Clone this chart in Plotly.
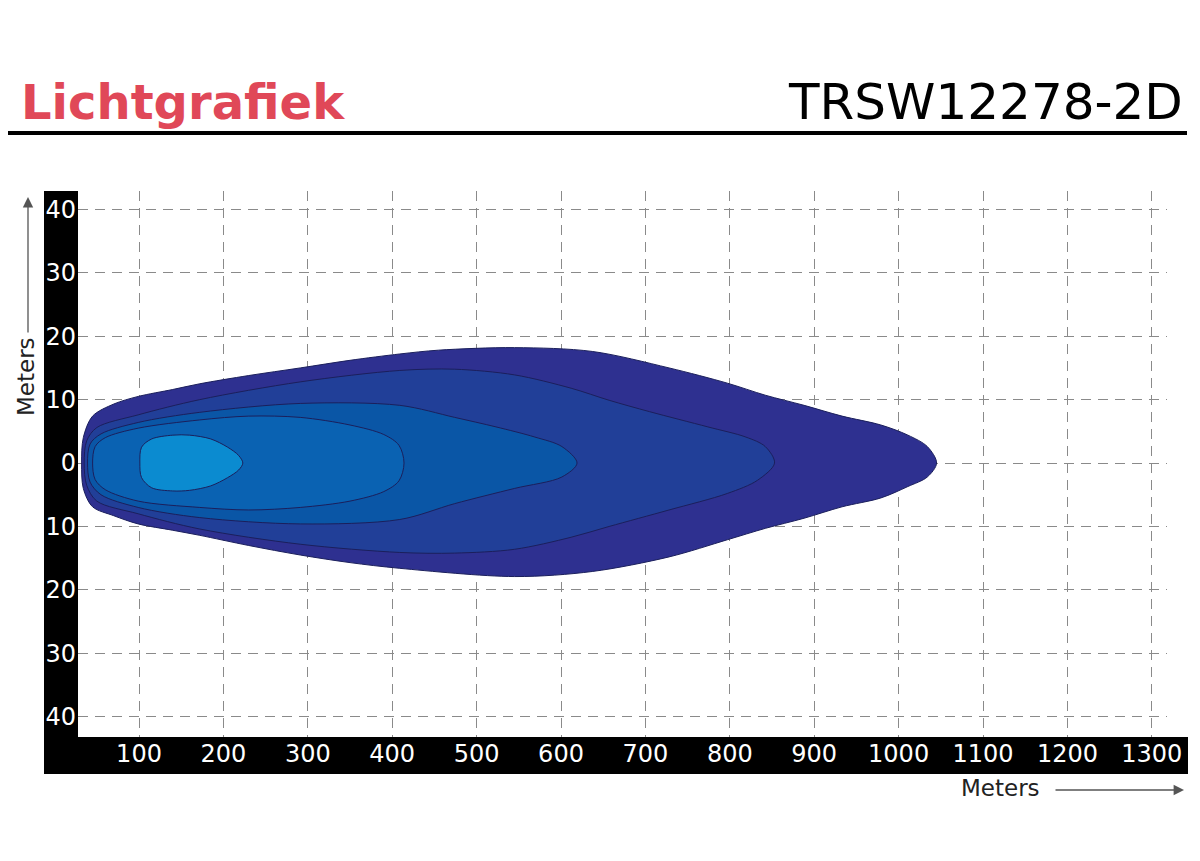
import plotly.graph_objects as go

# ---------------- data (meters) ----------------
# Isolux contours: upper edge (left->right) and lower edge (right->left)
c1_x_up = [32, 34, 45, 70, 99, 140, 172, 230, 291, 350, 409, 455, 545, 637, 728, 797, 842, 888, 933, 979, 1011, 1034, 1045]
c1_y_up = [0, 4.0, 7.4, 9.3, 10.5, 11.6, 12.5, 13.8, 15.0, 16.2, 17.2, 17.8, 18.2, 17.6, 15.0, 12.6, 10.7, 9.1, 7.4, 6.0, 4.4, 2.6, 0]
c1_x_lo = [1034, 1011, 979, 933, 888, 842, 797, 728, 637, 545, 409, 350, 291, 230, 172, 140, 99, 70, 45, 34]
c1_y_lo = [-2.2, -3.7, -5.5, -6.9, -8.7, -10.3, -12.1, -14.8, -17.1, -17.9, -16.6, -15.7, -14.5, -13.0, -11.4, -10.6, -9.6, -8.3, -6.9, -4.0]

c2_x_up = [35, 38, 50, 99, 172, 291, 409, 474, 545, 612, 657, 705, 774, 819, 842, 853]
c2_y_up = [0, 3.5, 5.6, 7.6, 10.0, 12.8, 14.6, 14.8, 13.9, 11.8, 9.9, 8.1, 5.7, 4.1, 2.6, 0]
c2_x_lo = [833, 797, 728, 657, 612, 545, 474, 409, 291, 172, 99, 50, 38]
c2_y_lo = [-2.7, -4.8, -7.4, -10.0, -11.7, -13.6, -14.2, -14.1, -12.8, -10.4, -8.0, -6.0, -3.5]

c3_x_up = [39, 42, 55, 99, 172, 291, 409, 474, 523, 569, 601, 619]
c3_y_up = [0, 3.0, 4.6, 6.4, 8.0, 9.4, 9.1, 7.2, 5.7, 4.1, 2.6, 0]
c3_x_lo = [601, 545, 474, 409, 291, 172, 99, 55, 42]
c3_y_lo = [-2.2, -4.0, -6.4, -8.9, -9.6, -8.6, -7.0, -5.0, -3.0]

c4_x_up = [45, 48, 60, 99, 172, 230, 291, 350, 390, 408, 414]
c4_y_up = [0, 2.6, 4.0, 5.5, 6.8, 7.4, 7.2, 6.0, 4.5, 2.8, 0]
c4_x_lo = [408, 390, 350, 291, 230, 172, 99, 60, 48]
c4_y_lo = [-2.8, -4.5, -6.0, -7.0, -7.4, -7.0, -6.0, -4.2, -2.6]

c5_x_up = [101, 103, 115, 140, 160, 185, 205, 218, 223]
c5_y_up = [0, 2.5, 3.8, 4.4, 4.4, 3.8, 2.5, 1.2, 0]
c5_x_lo = [218, 205, 185, 160, 140, 115, 103]
c5_y_lo = [-1.1, -2.3, -3.6, -4.3, -4.4, -3.9, -2.3]

contours = [
    (c1_x_up, c1_y_up, c1_x_lo, c1_y_lo, "#2E3090"),
    (c2_x_up, c2_y_up, c2_x_lo, c2_y_lo, "#213F98"),
    (c3_x_up, c3_y_up, c3_x_lo, c3_y_lo, "#0A56A6"),
    (c4_x_up, c4_y_up, c4_x_lo, c4_y_lo, "#0A62B2"),
    (c5_x_up, c5_y_up, c5_x_lo, c5_y_lo, "#0B8BD0"),
]

x_ticks = [100, 200, 300, 400, 500, 600, 700, 800, 900, 1000, 1100, 1200, 1300]
y_ticks = [-40, -30, -20, -10, 0, 10, 20, 30, 40]
y_ticktext = ["40", "30", "20", "10", "0", "10", "20", "30", "40"]

title_left = "Lichtgrafiek"
title_right = "TRSW12278-2D"
axis_label = "Meters"

# ---------------- layout geometry (reference pixels) ----------------
OFF = 8  # page body margin
W, H = 1200 - OFF, 861 - OFF
PL, PR, PT, PB = 78, 1167, 191, 737  # plot area in page pixels


def fx(px):
    return (px - PL) / (PR - PL)


def fy(py):
    return (PB - py) / (PB - PT)


fig = go.Figure()
for xu, yu, xl, yl, col in contours:
    xs = xu + xl + [xu[0]]
    ys = yu + yl + [yu[0]]
    fig.add_trace(go.Scatter(
        x=xs, y=ys, mode="lines", fill="toself", fillcolor=col,
        line=dict(color="#1B1F5C", width=1, shape="spline", smoothing=0.9),
        hoverinfo="skip", showlegend=False,
    ))

FONT = "DejaVu Sans, Verdana, sans-serif"

fig.update_layout(
    width=W, height=H,
    margin=dict(l=PL - OFF, r=1200 - PR, t=PT - OFF, b=861 - PB, pad=0),
    paper_bgcolor="white", plot_bgcolor="white",
    showlegend=False,
    xaxis=dict(
        range=[27.7, 1318], tickvals=x_ticks, ticktext=[str(v) for v in x_ticks],
        showgrid=True, gridcolor="#8a8a8a", gridwidth=1, griddash="10px,7px",
        zeroline=False, showline=False, ticks="",
        tickfont=dict(family=FONT, size=24, color="white"),
        ticklabelstandoff=0, fixedrange=True,
    ),
    yaxis=dict(
        range=[-43.2, 42.9], tickvals=y_ticks, ticktext=y_ticktext,
        showgrid=True, gridcolor="#8a8a8a", gridwidth=1, griddash="10px,7px",
        zeroline=False, showline=False, ticks="",
        tickfont=dict(family=FONT, size=24, color="white"),
        ticklabelstandoff=1, fixedrange=True,
    ),
    shapes=[
        # black axis bars
        dict(type="rect", xref="paper", yref="paper", x0=fx(44), x1=fx(PL), y0=fy(774), y1=fy(PT),
             fillcolor="black", line=dict(width=0), layer="below"),
        dict(type="rect", xref="paper", yref="paper", x0=fx(44), x1=fx(1188), y0=fy(774), y1=fy(PB),
             fillcolor="black", line=dict(width=0), layer="below"),
        # header rule
        dict(type="line", xref="paper", yref="paper", x0=fx(8), x1=fx(1187), y0=fy(133), y1=fy(133),
             line=dict(color="black", width=4)),
    ],
    annotations=[
        dict(text=title_left, xref="paper", yref="paper", x=fx(19), y=fy(102),
             xanchor="left", yanchor="middle", showarrow=False,
             font=dict(family=FONT, size=48, color="#E04858", weight="bold")),
        dict(text=title_right, xref="paper", yref="paper", x=fx(1185), y=fy(102),
             xanchor="right", yanchor="middle", showarrow=False,
             font=dict(family=FONT, size=50, color="black")),
        dict(text=axis_label, xref="paper", yref="paper", x=fx(26), y=fy(377),
             xanchor="center", yanchor="middle", showarrow=False, textangle=-90,
             font=dict(family=FONT, size=23, color="#222")),
        dict(text=axis_label, xref="paper", yref="paper", x=fx(1000), y=fy(788),
             xanchor="center", yanchor="middle", showarrow=False,
             font=dict(family=FONT, size=23, color="#222")),
        # arrows
        dict(text="", xref="paper", yref="paper", x=fx(28), y=fy(197), ax=0, ay=137,
             showarrow=True, arrowhead=2, arrowsize=1.6, arrowwidth=1.3, arrowcolor="#555"),
        dict(text="", xref="paper", yref="paper", x=fx(1184), y=fy(790), ax=-130, ay=0,
             showarrow=True, arrowhead=2, arrowsize=1.6, arrowwidth=1.3, arrowcolor="#555"),
    ],
)

fig.write_html("out.html")
